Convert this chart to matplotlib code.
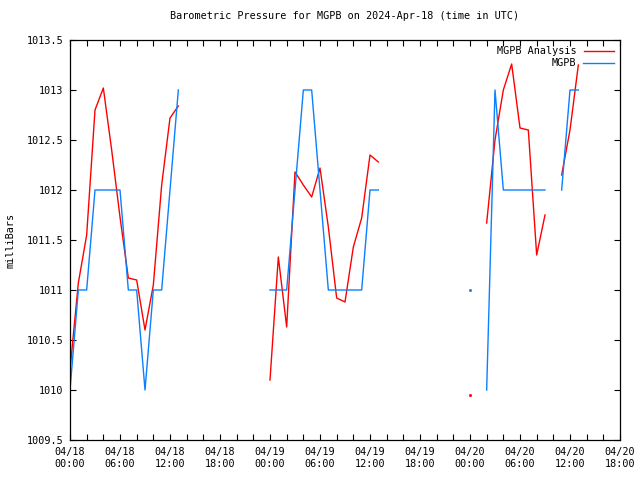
import numpy as np
import matplotlib
matplotlib.use("Agg")
import matplotlib.pyplot as plt
from matplotlib.ticker import MultipleLocator

# hourly values, hour 0 = 2024-04-18 00:00 UTC, None = no data
analysis = [1010.2, 1011.07, 1011.55, 1012.8, 1013.02, 1012.4, 1011.73, 1011.12,
            1011.1, 1010.6, 1011.05, 1012.05, 1012.72, 1012.84,
            None, None, None, None, None, None, None, None, None, None,
            1010.1, 1011.33, 1010.63, 1012.18, 1012.05, 1011.93, 1012.22, 1011.63,
            1010.92, 1010.88, 1011.43, 1011.72, 1012.35, 1012.28,
            None, None, None, None, None, None, None, None, None, None,
            1009.95, None, 1011.67, 1012.5, 1013.0, 1013.26, 1012.62, 1012.6,
            1011.35, 1011.75, None, 1012.15, 1012.6, 1013.25]
observed = [1010, 1011, 1011, 1012, 1012, 1012, 1012, 1011,
            1011, 1010, 1011, 1011, 1012, 1013,
            None, None, None, None, None, None, None, None, None, None,
            1011, 1011, 1011, 1012, 1013, 1013, 1012, 1011,
            1011, 1011, 1011, 1011, 1012, 1012,
            None, None, None, None, None, None, None, None, None, None,
            1011, None, 1010, 1013, 1012, 1012, 1012, 1012,
            1012, 1012, None, 1012, 1013, 1013]
tick_days = ["04/18", "04/19", "04/20"]
tick_times = ["00:00", "06:00", "12:00", "18:00"]

hours = np.arange(len(analysis))
red = np.array([np.nan if v is None else v for v in analysis])
blue = np.array([np.nan if v is None else v for v in observed])


def isolated(y):
    # points with no neighbour on either side, a line can't show them
    ok = ~np.isnan(y)
    prev = np.r_[False, ok[:-1]]
    nxt = np.r_[ok[1:], False]
    return ok & ~prev & ~nxt


plt.rcParams['font.family'] = ['DejaVu Sans Mono']
plt.rcParams['font.size'] = 7.3

fig = plt.figure(figsize=(6.4, 4.8), dpi=100)
ax = fig.add_axes([70/640, 40/480, 550/640, 400/480])

for y, c, name in [(red, '#ff0000', 'MGPB Analysis'), (blue, '#0a80ff', 'MGPB')]:
    ax.plot(hours, y, color=c, lw=1, label=name)
    m = isolated(y)
    ax.plot(hours[m], y[m], ls='none', marker='s', ms=1, mec=c, mfc=c)

ax.set_xlim(0, 66)
ax.set_ylim(1009.5, 1013.5)
ax.xaxis.set_minor_locator(MultipleLocator(2))
labels = [f"{d}\n{t}" for d in tick_days for t in tick_times]
ax.set_xticks(np.arange(0, 67, 6))
ax.set_xticklabels(labels[:12])
yt = np.arange(1009.5, 1013.51, 0.5)
ax.set_yticks(yt)
ax.set_yticklabels([f"{v:g}" for v in yt])
ax.tick_params(which='both', direction='in', top=True, right=True,
               length=4, width=0.8, pad=5)
for s in ax.spines.values():
    s.set_linewidth(0.9)

ax.set_ylabel('milliBars', labelpad=8)
ax.set_title('Barometric Pressure for MGPB on 2024-Apr-18 (time in UTC)',
             pad=15, fontsize=7.3)
ax.legend(loc='upper right', frameon=False, markerfirst=False,
          handlelength=3.0, handletextpad=0.7, borderaxespad=0.4,
          labelspacing=0.2, borderpad=0.2)

fig.savefig('out.png', dpi=100)
